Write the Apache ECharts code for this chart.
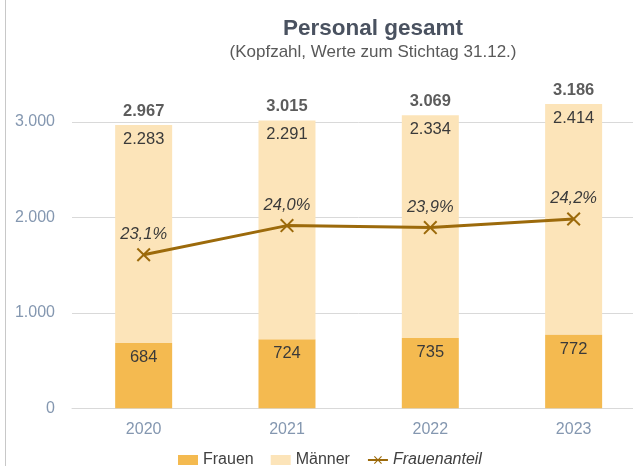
<!DOCTYPE html>
<html>
<head>
<meta charset="utf-8">
<script src="https://cdn.jsdelivr.net/npm/echarts@6/dist/echarts.min.js"></script>
<style>html,body{margin:0;padding:0;background:#fff;overflow:hidden}#c{width:650px;height:466px}</style>
</head>
<body>
<div id="c"></div>
<script>
const years = ['2020', '2021', '2022', '2023'];
const frauen = [684, 724, 735, 772];
const maenner = [2283, 2291, 2334, 2414];
const gesamt = [2967, 3015, 3069, 3186];
const frauenanteil = [23.054, 24.013, 23.949, 24.231];
const yTicks = [0, 1000, 2000, 3000];

function de(v) { return String(v).replace(/\B(?=(\d{3})+(?!\d))/g, '.'); }

const FONT = 'Liberation Sans, Arial, sans-serif';
const xPath = 'path://M0,1 L1,0 L5,4 L9,0 L10,1 L6,5 L10,9 L9,10 L5,6 L1,10 L0,9 L4,5 Z';

const chart = echarts.init(document.getElementById('c'), null, {renderer: 'canvas'});
chart.setOption({
  animation: false,
  textStyle: {fontFamily: FONT},
  title: {
    text: 'Personal gesamt',
    subtext: '(Kopfzahl, Werte zum Stichtag 31.12.)',
    left: 368, top: 12, textAlign: 'center', itemGap: 4,
    textStyle: {fontSize: 22.5, fontWeight: 'bold', color: '#4A5260', fontFamily: FONT},
    subtextStyle: {fontSize: 17, color: '#595959', fontFamily: FONT}
  },
  graphic: [{
    type: 'line', shape: {x1: 5.5, y1: 0, x2: 5.5, y2: 466},
    style: {stroke: '#C8C8C8', lineWidth: 1}
  }],
  grid: {left: 72, width: 573.3, top: 74.1, bottom: 57.7, containLabel: false},
  legend: {
    left: 173, top: 447, itemWidth: 20, itemHeight: 10, itemGap: 17,
    textStyle: {fontSize: 16, color: '#404040', fontFamily: FONT},
    data: [
      {name: 'Frauen', icon: 'rect'},
      {name: 'Männer', icon: 'rect'},
      {name: 'Frauenanteil', textStyle: {fontStyle: 'italic'}}
    ]
  },
  xAxis: {
    type: 'category', data: years,
    axisLine: {lineStyle: {color: '#D9D9D9', width: 1}},
    axisTick: {show: false},
    axisLabel: {fontSize: 16, color: '#8497B0', margin: 13, fontFamily: FONT}
  },
  yAxis: [{
    type: 'value', min: yTicks[0], max: 3500, interval: 1000,
    axisLine: {show: false}, axisTick: {show: false},
    splitLine: {lineStyle: {color: '#D9D9D9', width: 1}, showMaxLine: false},
    axisLabel: {fontSize: 16, color: '#8497B0', margin: 17, showMaxLabel: false,
      formatter: v => (v > 3000 ? '' : de(v)), fontFamily: FONT}
  }, {
    type: 'value', min: 18, max: 29, show: false, splitLine: {show: false}
  }],
  series: [{
    name: 'Frauen', type: 'bar', stack: 'p', barWidth: 57,
    data: frauen,
    itemStyle: {color: '#F4BA50'},
    label: {show: true, position: 'insideTop', distance: 6, fontSize: 16.5, color: '#3A3A3A',
      formatter: p => de(p.value), fontFamily: FONT}
  }, {
    name: 'Männer', type: 'bar', stack: 'p', barWidth: 57,
    data: maenner,
    itemStyle: {color: '#FCE4B9'},
    label: {show: true, position: 'insideTop', distance: 6, fontSize: 16.5, color: '#3A3A3A',
      formatter: p => de(p.value), fontFamily: FONT}
  }, {
    name: 'Gesamt', type: 'scatter', data: gesamt, symbolSize: 0, silent: true,
    label: {show: true, position: 'top', distance: 5, fontSize: 16.5, fontWeight: 'bold', color: '#333333',
      formatter: p => de(p.value), fontFamily: FONT}
  }, {
    name: 'Frauenanteil', type: 'line', yAxisIndex: 1, data: frauenanteil,
    symbol: xPath, symbolSize: 14, z: 5,
    lineStyle: {color: '#9C6A0B', width: 3},
    itemStyle: {color: '#9C6A0B'},
    label: {show: true, position: 'top', distance: 5, fontSize: 16.5, fontStyle: 'italic', color: '#3A3A3A',
      formatter: p => p.value.toFixed(1).replace('.', ',') + '%', fontFamily: FONT}
  }]
});
</script>
</body>
</html>
